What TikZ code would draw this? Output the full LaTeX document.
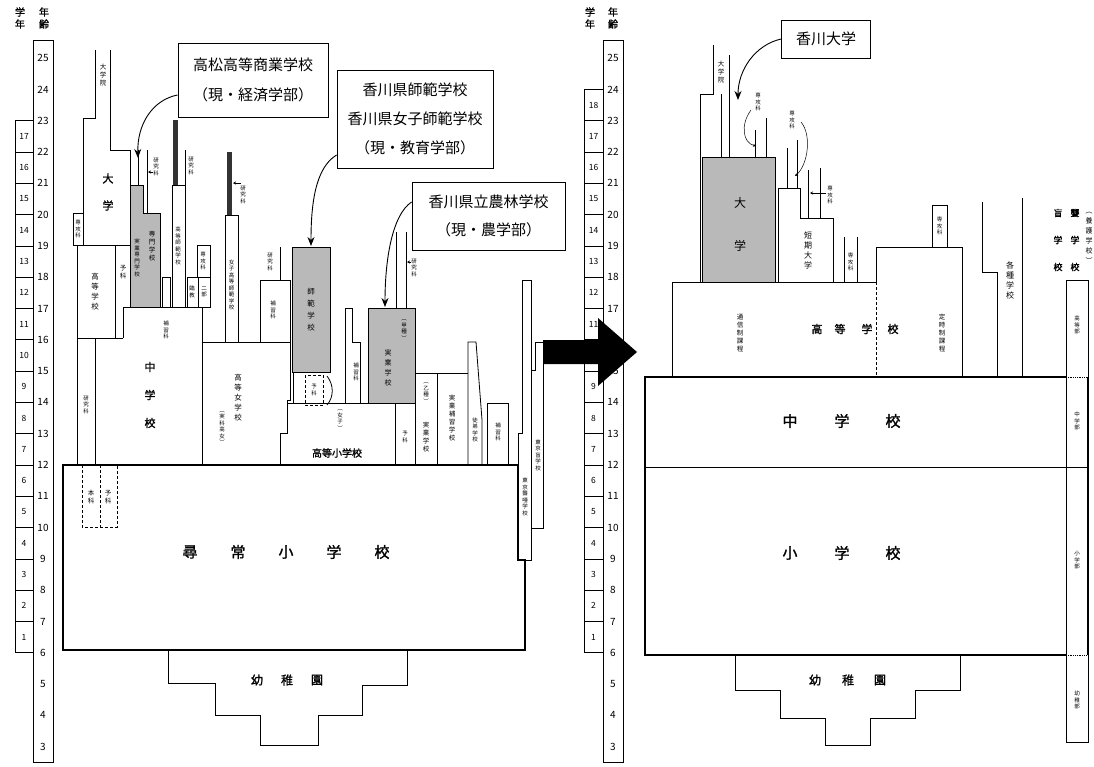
\documentclass[tikz,border=0pt]{standalone}
\usepackage{fontspec}
\usetikzlibrary{arrows.meta}
\newfontfamily\cjk{Noto Sans CJK JP}
\newfontfamily\cjkb[FakeBold=1.5]{Noto Sans CJK JP}
\makeatletter
\newcommand\vtx[1]{\vtx@@#1\@nil}
\def\vtx@@#1{#1\vtx@}
\def\vtx@#1{\ifx#1\@nil\else\\#1\expandafter\vtx@\fi}
\makeatother
\begin{document}
\begin{tikzpicture}[x=1pt,y=-1pt]
\tikzset{
 ln/.style={line width=0.8pt},
 tk/.style={line width=2.2pt},
 vt/.style={font=\cjk\fontsize{6.5}{8}\selectfont,align=center,inner sep=0pt},
 vs/.style={font=\cjk\fontsize{5.5}{6.5}\selectfont,align=center,inner sep=0pt},
 big/.style={font=\cjkb\fontsize{15}{15}\selectfont,inner sep=0pt},
 callout/.style={draw,fill=white,line width=0.9pt,font=\cjk\fontsize{15}{30}\selectfont,align=center,inner sep=0pt},
 arr/.style={line width=0.9pt,-{Stealth[length=9pt,width=7pt]}},
 sarr/.style={line width=0.5pt,-{Stealth[length=3pt,width=3pt]}},
 grey/.style={ln,fill=gray!55},
 agel/.style={font=\cjk\fontsize{10}{10}\selectfont,inner sep=0pt},
 grdl/.style={font=\cjk\fontsize{8.5}{8.5}\selectfont,inner sep=0pt},
 head/.style={font=\cjkb\fontsize{10}{12}\selectfont,align=center,inner sep=0pt},
}
\useasboundingbox (0,0) rectangle (1094,766);

% ================= LEFT SCALES =================
\node[head] (hL1) at (20,18) {\vtx{学年}};
\node[head] (hL2) at (44,18) {\vtx{年齢}};
\draw[ln] (33,40) rectangle (53,762);
\foreach \a in {3,...,25} {\node[agel] (la\a) at (43,{465+(12-\a)*31.3}) {\a};}
\foreach \g in {1,...,17} {
  \draw[ln] (15,{465+(12-(5+\g))*31.3}) rectangle (33,{465+(12-(6+\g))*31.3});
  \node[grdl] (lg\g) at (24,{465+(12-(5.5+\g))*31.3}) {\g};
}

% ================= RIGHT SCALES =================
\node[head] (hR1) at (590,18) {\vtx{学年}};
\node[head] (hR2) at (613,18) {\vtx{年齢}};
\draw[ln] (603,40) rectangle (623,762);
\foreach \a in {3,...,25} {\node[agel] (ra\a) at (613,{465+(12-\a)*31.3}) {\a};}
\foreach \g in {1,...,18} {
  \draw[ln] (584,{465+(12-(5+\g))*31.3}) rectangle (603,{465+(12-(6+\g))*31.3});
  \node[grdl] (rg\g) at (593.5,{465+(12-(5.5+\g))*31.3}) {\g};
}

% ================= LEFT DIAGRAM =================
% Jinjo shogakko
\draw[tk] (63,465) -- (518,465) -- (518,560) -- (525,560) -- (525,650) -- (63,650) -- cycle;
\foreach \c/\x in {尋/190,常/238,小/286,学/334,校/382} {\node[big] (lj\x) at (\x,552) {\c};}
% kindergarten
\draw[ln] (168,650) -- (168,683) -- (215,683) -- (215,715) -- (260,715) -- (260,745) -- (318,745) -- (318,715) -- (362,715) -- (362,685) -- (407,685) -- (407,650);
\foreach \c/\x in {幼/257,稚/287,園/317} {\node[font=\cjkb\fontsize{12}{12}\selectfont] (lk\x) at (\x,680) {\c};}

% daigakuin / daigaku
\draw[ln] (95,50) -- (95,118) -- (83,118) -- (83,245);
\draw[ln] (110,50) -- (110,150) -- (130,150) -- (130,307);
\node[vt] (ldin) at (103,75) {\vtx{大学院}};
\node[font=\cjkb\fontsize{11}{27}\selectfont,align=center,inner sep=0pt] (ldai) at (108,192) {\vtx{大学}};
% senkoka small
\draw[ln] (83,213) -- (73,213) -- (73,245);
\node[vs] (lsk1) at (78,229) {\vtx{専攻科}};
% koto gakko
\draw[ln] (73,245) -- (130,245);
\draw[ln] (77,245) -- (77,465);
\draw[ln] (77,338) -- (123,338);
\draw[ln] (115,245) -- (115,338);
\node[font=\cjk\fontsize{7.5}{10}\selectfont,align=center,inner sep=0pt] (lkoko) at (95,292) {\vtx{高等学校}};
\node[vt] (lyoka1) at (123,272) {\vtx{予科}};
% grey senmon
\draw[grey] (130,307) -- (130,185) -- (143,185) -- (143,213) -- (160,213) -- (160,307);
\draw[ln] (138,150) -- (138,185);
\draw[ln] (147,150) -- (147,213);
\node[vs] (lken1) at (156,167) {\vtx{研究科}};
\draw[sarr] (153,172) -- (148,172);
\node[vs] (lsen1) at (137,258) {\vtx{実業専門学校}};
\node[vt] (lsen2) at (152,246) {\vtx{専門学校}};
% chugakko
\draw[ln] (95,338) -- (95,465);
\draw[ln] (123,338) -- (123,307) -- (202,307) -- (202,465);
\node[font=\cjkb\fontsize{11}{28}\selectfont,align=center,inner sep=0pt] (lchu) at (150,395) {\vtx{中学校}};
\node[vs] (lken2) at (86,405) {\vtx{研究科}};
\draw[ln,densely dashed] (82,465) -- (82,527) -- (117,527) -- (117,465);
\draw[ln,densely dashed] (100,465) -- (100,527);
\node[vt] (lhon) at (91,497) {\vtx{本科}};
\node[vt] (lyoka2) at (108,497) {\vtx{予科}};
\draw[ln] (162,307) -- (162,277) -- (170,277) -- (170,307);
\node[vs] (lhos1) at (166,330) {\vtx{補習科}};
% koto shihan
\fill[black!80] (173,120) rectangle (178,185);
\draw[ln] (172,185) rectangle (185,307);
\draw[ln] (185,150) -- (185,185);
\node[vs] (lksh) at (178,246) {\vtx{高等師範学校}};
\node[vs] (lken3) at (191,166) {\vtx{研究科}};
\draw[ln] (197,245) rectangle (210,277);
\node[vs] (lsk2) at (203,261) {\vtx{専攻科}};
\draw[ln] (187,277) rectangle (210,307);
\draw[ln] (198,277) -- (198,307);
\node[vs] (lrin) at (192,292) {\vtx{臨教}};
\node[vs] (lnib) at (204,292) {\vtx{二部}};
% joshi koto shihan
\fill[black!80] (227,152) rectangle (232,215);
\draw[ln] (225,215) rectangle (238,342);
\node[vs] (ljks) at (231.5,285) {\vtx{女子高等師範学校}};
\node[vs] (lken4) at (243,195) {\vtx{研究科}};
\draw[sarr] (241,183) -- (233,183);
% kenkyuka / hoshuka column
\draw[ln] (280,247) -- (280,280);
\node[vs] (lken5) at (270,262) {\vtx{研究科}};
\draw[ln] (260,342) -- (260,280) -- (290,280) -- (290,342);
\node[vs] (lhos2) at (273,310) {\vtx{補習科}};
% koto jogakko
\draw[ln] (202,342) -- (290,342) -- (290,400) -- (287,400) -- (287,433) -- (280,433) -- (280,465);
\node[font=\cjk\fontsize{7.5}{10}\selectfont,align=center,inner sep=0pt] (lkjg) at (238,398) {\vtx{高等女学校}};
\node[vs] (ljkk) at (222,428) {\vtx{︵実科高女︶}};
% shihan gakko
\draw[grey] (292,247) rectangle (330,372);
\node[font=\cjk\fontsize{7.5}{12}\selectfont,align=center,inner sep=0pt] (lshg) at (311,310) {\vtx{師範学校}};
\draw[ln] (293,372) -- (293,403);
\draw[ln,densely dashed] (305,375) rectangle (323,405);
\node[vs] (lyoka3) at (314,390) {\vtx{予科}};
\draw[ln] (327,376) .. controls (334,385) and (334,397) .. (327,405);
\node[vs] (ljos) at (340,420) {\vtx{︵女子︶}};
% koto shogakko
\draw[ln] (287,403) -- (395,403) -- (395,465);
\node[font=\cjkb\fontsize{10}{10}\selectfont,inner sep=0pt] (lksg) at (337,453) {高等小学校};
\draw[ln] (345,403) -- (345,308) -- (352,308) -- (352,342) -- (360,342) -- (360,403);
\node[vs] (lhos3) at (356,372) {\vtx{補習科}};
% jitsugyo (kou)
\draw[grey] (368,308) rectangle (415,403);
\node[vs] (lkou) at (404,330) {\vtx{︵甲種︶}};
\node[font=\cjk\fontsize{7}{10}\selectfont,align=center,inner sep=0pt] (ljg1) at (388,368) {\vtx{実業学校}};
\draw[ln] (396,232) -- (396,308);
\draw[ln] (406,232) -- (406,308);
\node[vs] (lken6) at (414,268) {\vtx{研究科}};
\draw[sarr] (411,262) -- (407,262);
% yoka / otsu / hoshu
\draw[ln] (415,373) -- (468,373);
\draw[ln] (415,403) -- (415,465);
\node[vs] (lyoka4) at (405,437) {\vtx{予科}};
\draw[ln] (437,373) -- (437,465);
\node[vs] (lotsu) at (426,393) {\vtx{︵乙種︶}};
\node[vt] (ljg2) at (426,437) {\vtx{実業学校}};
\node[vt] (ljhg) at (452,418) {\vtx{実業補習学校}};
\draw[ln] (468,465) -- (468,342) -- (476,342) -- (482,420) -- (482,465);
\node[vs] (ltot) at (475,430) {\vtx{徒弟学校}};
\draw[ln] (487,465) -- (487,403) -- (508,403) -- (508,465);
\node[vs] (lhos4) at (498,432) {\vtx{補習科}};
% Tokyo schools
\draw[ln] (518,465) -- (518,433) -- (522,433) -- (522,280) -- (531,280) -- (531,560) -- (525,560);
\node[vs] (lrou) at (525,497) {\vtx{東京聾唖学校}};
\draw[ln] (531,528) -- (543,528) -- (543,342) -- (535,342) -- (535,370) -- (531,370);
\node[vs] (lmou) at (538,455) {\vtx{東京盲学校}};

% callouts left
\node[callout,minimum width=150pt,minimum height=74pt] (takamatsu) at (253,80) {高松高等商業学校\\（現・経済学部）};
\coordinate (ta) at (138,158);
\draw[arr] ([yshift=-15pt]takamatsu.west) .. controls (152,100) and (137,125) .. (ta);
\node[callout,minimum width=156pt,minimum height=98pt,font=\cjk\fontsize{15}{29}\selectfont] (shihan) at (415,119) {香川県師範学校\\香川県女子師範学校\\（現・教育学部）};
\coordinate (sa) at (311,246);
\draw[arr] ([yshift=-36pt]shihan.west) .. controls (315,168) and (311,205) .. (sa);
\node[callout,minimum width=153pt,minimum height=68pt,font=\cjk\fontsize{15}{28}\selectfont] (norin) at (488.5,216) {香川県立農林学校\\（現・農学部）};
\coordinate (na) at (385,307);
\draw[arr] ([yshift=14pt]norin.west) .. controls (392,215) and (385,260) .. (na);

% ================= BIG ARROW =================
\fill[black] (543,340) -- (598,340) -- (598,318) -- (637,352) -- (598,386) -- (598,364) -- (543,364) -- cycle;

% ================= RIGHT DIAGRAM =================
\draw[tk] (1066,377) -- (645,377) -- (645,655) -- (1066,655);
\draw[tk] (1088,377) -- (1088,655);
\draw[ln] (645,467) -- (1088,467);
\foreach \c/\x in {中/790,学/842,校/893} {\node[big] (rc\x) at (\x,421) {\c};}
\foreach \c/\x in {小/790,学/842,校/893} {\node[big] (rs\x) at (\x,553) {\c};}
\draw[ln] (735,655) -- (735,690) -- (780,690) -- (780,718) -- (825,718) -- (825,745) -- (870,745) -- (870,718) -- (915,718) -- (915,690) -- (960,690) -- (960,655);
\foreach \c/\x in {幼/815,稚/848,園/880} {\node[font=\cjkb\fontsize{12}{12}\selectfont] (rk\x) at (\x,680) {\c};}
% special schools column
\draw[ln] (1066,280) rectangle (1088,742);
\draw[ln,densely dotted] (1066,377) -- (1088,377);
\draw[ln,densely dotted] (1066,655) -- (1088,655);
\node[vs] (rkob) at (1077,325) {\vtx{高等部}};
\node[vs] (rchb) at (1077,421) {\vtx{中学部}};
\node[vs] (rshb) at (1077,560) {\vtx{小学部}};
\node[vs] (ryob) at (1077,700) {\vtx{幼稚部}};
\node[font=\cjkb\fontsize{9}{27}\selectfont,align=center,inner sep=0pt] (rmou) at (1058,240) {\vtx{盲学校}};
\node[font=\cjkb\fontsize{9}{27}\selectfont,align=center,inner sep=0pt] (rrou) at (1075,240) {\vtx{聾学校}};
\node[font=\cjk\fontsize{7}{10}\selectfont,align=center,inner sep=0pt] (ryog) at (1089,238) {\vtx{︵養護学校︶}};
% koto gakko
\draw[ln] (672,377) -- (672,282) -- (876,282) -- (876,247) -- (962,247) -- (962,377);
\draw[ln,densely dashed] (876,282) -- (876,377);
\foreach \c/\x in {高/817,等/840,学/867,校/893} {\node[font=\cjkb\fontsize{11}{11}\selectfont,inner sep=0pt] (rkk\x) at (\x,329) {\c};}
\node[vt] (rtsu) at (740,333) {\vtx{通信制課程}};
\node[vt] (rtei) at (942,333) {\vtx{定時制課程}};
\draw[ln] (932,247) -- (932,205) -- (947,205) -- (947,247);
\node[vs] (rsk1) at (939.5,226) {\vtx{専攻科}};
% kakushu gakko
\draw[ln] (982,202) -- (982,272) -- (997,272) -- (997,377);
\draw[ln] (1022,198) -- (1022,377);
\node[font=\cjk\fontsize{8}{10}\selectfont,align=center,inner sep=0pt] (rkak) at (1010,280) {\vtx{各種学校}};
% daigaku
\draw[grey] (702,157) rectangle (775,282);
\node[font=\cjk\fontsize{12}{43}\selectfont,align=center,inner sep=0pt] (rdai) at (740,224) {\vtx{大学}};
\draw[ln] (700,282) -- (700,94) -- (713,94) -- (713,45);
\draw[ln] (721,94) -- (721,157);
\draw[ln] (729,55) -- (729,157);
\node[vt] (rdin) at (721,72) {\vtx{大学院}};
\node[vs] (rsk2) at (758,102) {\vtx{専攻科}};
\draw[ln] (755,130) -- (755,157);
\draw[ln] (766,118) -- (766,157);
\coordinate (rsk2a) at (756,146);
\draw[sarr] (751,110) .. controls (740,125) and (743,143) .. (rsk2a);
% tanki daigaku
\draw[ln] (778,282) -- (778,188) -- (800,188) -- (800,218) -- (833,218) -- (833,282);
\node[font=\cjk\fontsize{8}{10}\selectfont,align=center,inner sep=0pt] (rtan) at (808,250) {\vtx{短期大学}};
\draw[ln] (787,148) -- (787,188);
\draw[ln] (797,140) -- (797,188);
\node[vs] (rsk3) at (792,120) {\vtx{専攻科}};
\coordinate (rsk3a) at (795,176);
\draw[sarr] (801,122) .. controls (812,135) and (808,165) .. (rsk3a);
\draw[ln] (808,170) -- (808,218);
\draw[ln] (820,168) -- (820,218);
\node[vs] (rsk4) at (830,195) {\vtx{専攻科}};
\draw[sarr] (826,193) -- (810,193);
\draw[ln] (844,237) -- (844,282);
\draw[ln] (857,237) -- (857,282);
\node[vs] (rsk5) at (850.5,262) {\vtx{専攻科}};
% callout right
\node[callout,minimum width=89pt,minimum height=38pt,font=\cjk\fontsize{15}{15}\selectfont] (kagawa) at (826,39) {香川大学};
\coordinate (ka) at (738,100);
\draw[arr] (kagawa.west) .. controls (755,45) and (738,70) .. (ka);
\end{tikzpicture}
\end{document}
